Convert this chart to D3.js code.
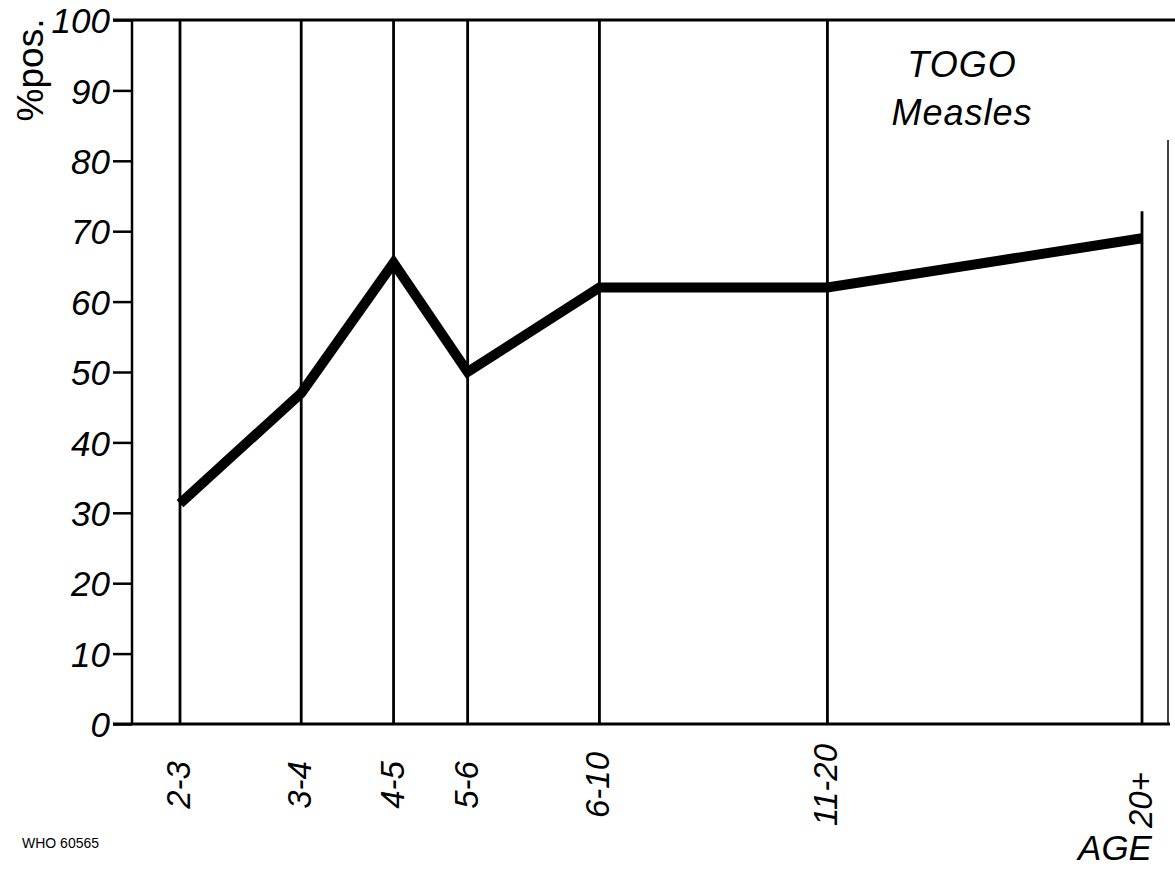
<!DOCTYPE html>
<html>
<head>
<meta charset="utf-8">
<script src="https://cdn.jsdelivr.net/npm/d3@7"></script>
<style>
  body { margin: 0; background: #fff; }
  text { font-family: "Liberation Sans", Arial, sans-serif; font-style: italic; fill: #000; }
</style>
</head>
<body>
<div id="chart"></div>
<script>
// data
var ageGroups = ['2-3', '3-4', '4-5', '5-6', '6-10', '11-20', '20+'];
var agePos = [0, 12.6, 22.2, 29.9, 43.6, 67.3, 100]; // relative spacing along the age axis
var pctPositive = [31.3, 47, 65.5, 50, 62, 62, 69];
var yTicks = [0, 10, 20, 30, 40, 50, 60, 70, 80, 90, 100];

var width = 1175, height = 870;

var svg = d3.select('#chart')
    .append('svg')
    .attr('width', width)
    .attr('height', height);

var xscale = d3.scaleLinear().domain([0, 100]).range([180, 1142]);
var yscale = d3.scaleLinear().domain([0, 100]).range([724, 20]);

var axisX = 132;

// y axis
var yaxis = d3.axisLeft(yscale)
    .tickValues(yTicks)
    .tickSize(19)
    .tickPadding(3)
    .tickFormat(d3.format('d'));

var gy = svg.append('g')
    .attr('transform', 'translate(' + axisX + ',0)')
    .call(yaxis);
gy.select('.domain').remove();
gy.selectAll('.tick line').attr('stroke', '#000').attr('stroke-width', 2.5);
gy.selectAll('.tick text')
    .style('font-size', '35px')
    .style('font-family', '"Liberation Sans", Arial, sans-serif')
    .style('font-style', 'italic')
    .attr('dy', '0.36em');

// frame lines
svg.append('line')
    .attr('x1', axisX).attr('x2', axisX)
    .attr('y1', yscale(100)).attr('y2', yscale(0))
    .attr('stroke', '#000').attr('stroke-width', 2.5);
svg.append('line')
    .attr('x1', axisX - 19).attr('x2', width)
    .attr('y1', yscale(100)).attr('y2', yscale(100))
    .attr('stroke', '#000').attr('stroke-width', 3);
svg.append('line')
    .attr('x1', axisX - 19).attr('x2', 1170)
    .attr('y1', yscale(0)).attr('y2', yscale(0))
    .attr('stroke', '#000').attr('stroke-width', 3);
svg.append('line')
    .attr('x1', 1168).attr('x2', 1168)
    .attr('y1', 140).attr('y2', yscale(0))
    .attr('stroke', '#000').attr('stroke-width', 1.5);

// vertical lines for each age group
var data = ageGroups.map(function(g, i) {
    return { age: g, pos: agePos[i], value: pctPositive[i] };
});

svg.selectAll('.vline')
    .data(data)
    .enter()
    .append('line')
    .attr('class', 'vline')
    .attr('x1', d => xscale(d.pos))
    .attr('x2', d => xscale(d.pos))
    .attr('y1', (d, i) => i === data.length - 1 ? yscale(d.value) - 27 : yscale(100))
    .attr('y2', yscale(0))
    .attr('stroke', '#000')
    .attr('stroke-width', 2.8);

// x labels
svg.selectAll('.xlab')
    .data(data)
    .enter()
    .append('text')
    .attr('class', 'xlab')
    .attr('transform', d => 'translate(' + (xscale(d.pos) + 10) + ',' + (d.age === '20+' ? 800 : 785) + ') rotate(-90)')
    .attr('text-anchor', 'middle')
    .style('font-size', '33px')
    .text(d => d.age);

// the series
var line = d3.line()
    .x(d => xscale(d.pos))
    .y(d => yscale(d.value));

svg.append('path')
    .datum(data)
    .attr('d', line)
    .attr('fill', 'none')
    .attr('stroke', '#000')
    .attr('stroke-width', 10)
    .attr('stroke-linejoin', 'miter')
    .attr('stroke-miterlimit', 3);

// texts
svg.append('text')
    .attr('transform', 'translate(43,70) rotate(-90)')
    .attr('text-anchor', 'middle')
    .style('font-size', '37px')
    .style('font-style', 'normal')
    .text('%pos.');

svg.append('text')
    .attr('x', 962).attr('y', 77)
    .attr('text-anchor', 'middle')
    .style('font-size', '36px')
    .style('letter-spacing', '1px')
    .text('TOGO');

svg.append('text')
    .attr('x', 962).attr('y', 125)
    .attr('text-anchor', 'middle')
    .style('font-size', '36px')
    .style('letter-spacing', '1px')
    .text('Measles');

svg.append('text')
    .attr('x', 1115).attr('y', 860)
    .attr('text-anchor', 'middle')
    .style('font-size', '35px')
    .text('AGE');

svg.append('text')
    .attr('x', 22).attr('y', 848)
    .style('font-size', '14px')
    .style('font-style', 'normal')
    .text('WHO 60565');
</script>
</body>
</html>
